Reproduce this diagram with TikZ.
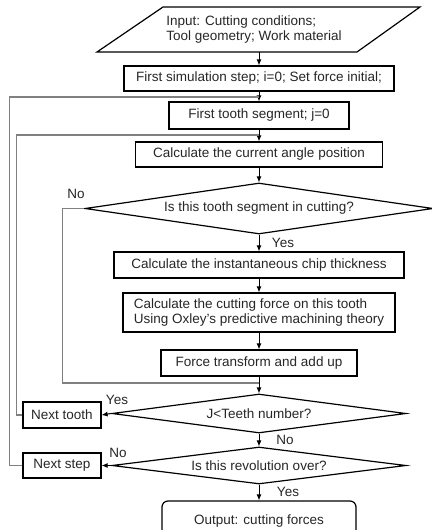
\documentclass[tikz,border=0pt]{standalone}
\usepackage{fontspec}
\setmainfont{Liberation Sans}
\usetikzlibrary{shapes.geometric,arrows.meta}

\begin{document}
\begin{tikzpicture}[x=1pt, y=-1pt,
  box/.style={draw, line width=1.2pt, inner sep=0pt, text=black!85},
  test/.style={draw, diamond, aspect=7, line width=1.2pt, inner sep=0pt, text=black!85},
  flow/.style={-{Latex[length=6pt,width=5pt]}, line width=0.9pt},
  back/.style={draw=black!50, line width=1.1pt},
  lab/.style={inner sep=0pt, text=black!85}]

  \fontsize{13.5}{15.5}\selectfont
  \useasboundingbox (0,0) rectangle (431,530);

  \newcommand\M{259};

  \node[lab, align=left] (input) at (254, 29.5) {Input: Cutting conditions;\\Tool geometry; Work material};
  \draw[line width=1.2pt] (97,52) -- (163,7) -- (420,7) -- (357,52) -- cycle; % input frame
  \coordinate (inbot) at (\M, 52);
  \node[box, minimum width=270, minimum height=25] (sim) at (\M, 78.5) {First simulation step; i=0; Set force initial;};
  \node[box, minimum width=180, minimum height=27] (tooth) at (\M, 115.5) {First tooth segment; j=0};
  \node[box, minimum width=247, minimum height=25] (angle) at (\M, 154.5) {Calculate the current angle position};
  \node[test, minimum width=348, minimum height=51] (incut) at (\M, 208.5) {Is this tooth segment in cutting?};
  \node[box, minimum width=290, minimum height=26] (chip) at (\M, 265) {Calculate the instantaneous chip thickness};
  \node[box, minimum width=272, minimum height=39, align=left] (force) at (\M, 312.5)
        {Calculate the cutting force on this tooth\\Using Oxley’s predictive machining theory};
  \node[box, minimum width=196, minimum height=26] (sum) at (\M, 363) {Force transform and add up};
  \node[test, minimum width=294, minimum height=39] (teeth) at (\M, 413.5) {J<Teeth number?};
  \node[test, minimum width=294, minimum height=37] (rev) at (\M, 465.5) {Is this revolution over?};
  \node[box, rounded corners=6pt, minimum width=194, minimum height=40] (out) at (\M, 521) {Output: cutting forces};

  \node[box, minimum width=78, minimum height=26] (ntooth) at (62, 415) {Next tooth};
  \node[box, minimum width=78, minimum height=25] (nstep) at (62, 465.5) {Next step};

  %% main line
  \draw[flow] (inbot) -- (sim);
  \draw[flow] (sim) -- (tooth);
  \draw[flow] (tooth) -- (angle);
  \draw[flow] (angle) -- (incut);
  \draw[flow] (incut) -- (chip);
  \draw[flow] (chip) -- (force);
  \draw[flow] (force) -- (sum);
  \draw[flow] (sum) -- (teeth);
  \draw[flow] (teeth) -- (rev);
  \draw[flow] (rev) -- (out);
  \draw[flow] (teeth.west) -- (ntooth.east);
  \draw[flow] (rev.west) -- (nstep.east);

  %% loops back
  \coordinate (j1) at (\M, 97);
  \coordinate (j2) at (\M, 135);
  \coordinate (j3) at (\M, 383);
  \draw[back] (nstep.west) -- ++(-13,0) |- (j1);
  \draw[back] (ntooth.west) -- ++(-6,0) |- (j2);
  \draw[back] (incut.west) -- ++(-22,0) |- (j3);

  %% labels
  \node[lab] (no1) at (76, 194) {No};
  \node[lab] (yes1) at (283, 243) {Yes};
  \node[lab] (yes2) at (117, 400) {Yes};
  \node[lab] (no2) at (285, 440) {No};
  \node[lab] (no3) at (118, 453) {No};
  \node[lab] (yes3) at (288, 492) {Yes};
\end{tikzpicture}
\end{document}
